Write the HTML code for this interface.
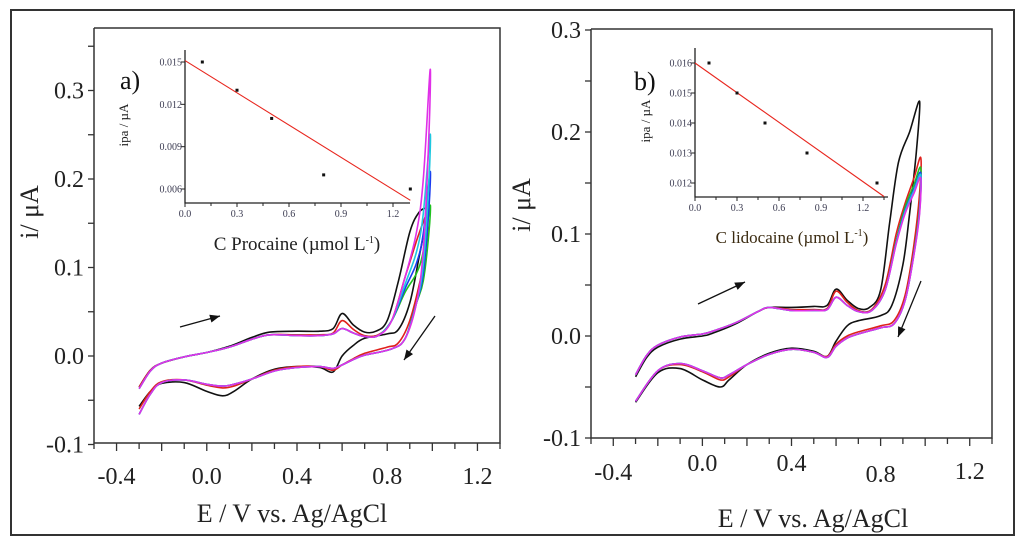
<!DOCTYPE html>
<html><head><meta charset="utf-8"><style>
body{margin:0;background:#fff}
svg{display:block;font-family:"Liberation Serif",serif}
</style></head><body>
<svg id="fig" width="1024" height="546" viewBox="0 0 1024 546">
<rect x="11" y="10" width="1003" height="525" fill="none" stroke="#333" stroke-width="2"/>
<g id="L"></g>
<g id="R"></g>
</svg>
<script>
// ---- Panel a CV data (E in V, i in µA) ----
const aBlack = [[-0.3,-0.035],[-0.25,-0.016],[-0.2,-0.008],[-0.1,-0.001],[0,0.004],[0.1,0.011],[0.2,0.021],[0.28,0.027],[0.4,0.028],[0.5,0.028],[0.56,0.031],[0.6,0.048],[0.65,0.035],[0.7,0.027],[0.75,0.028],[0.8,0.04],[0.85,0.085],[0.9,0.14],[0.94,0.162],[0.975,0.166],[0.97,0.15],[0.94,0.11],[0.9,0.06],[0.85,0.03],[0.8,0.025],[0.7,0.02],[0.65,0.012],[0.6,0.0],[0.56,-0.018],[0.5,-0.013],[0.4,-0.012],[0.3,-0.015],[0.2,-0.026],[0.12,-0.04],[0.07,-0.045],[0,-0.04],[-0.1,-0.03],[-0.2,-0.031],[-0.25,-0.04],[-0.3,-0.057]];
const aRed = [[-0.3,-0.035],[-0.25,-0.016],[-0.2,-0.008],[-0.1,-0.001],[0,0.004],[0.1,0.01],[0.2,0.019],[0.28,0.024],[0.4,0.024],[0.5,0.024],[0.56,0.026],[0.6,0.04],[0.65,0.03],[0.7,0.023],[0.76,0.024],[0.82,0.04],[0.88,0.09],[0.93,0.13],[0.97,0.158],[0.98,0.16],[0.975,0.13],[0.95,0.09],[0.9,0.04],[0.85,0.015],[0.8,0.01],[0.7,0.003],[0.65,-0.003],[0.6,-0.01],[0.56,-0.016],[0.5,-0.012],[0.4,-0.012],[0.3,-0.016],[0.2,-0.026],[0.12,-0.034],[0.07,-0.036],[0,-0.033],[-0.1,-0.027],[-0.2,-0.029],[-0.25,-0.04],[-0.3,-0.06]];
const aMagenta = [[-0.3,-0.037],[-0.25,-0.017],[-0.2,-0.008],[-0.1,-0.001],[0,0.004],[0.1,0.01],[0.2,0.019],[0.28,0.024],[0.4,0.023],[0.5,0.023],[0.56,0.025],[0.6,0.031],[0.65,0.026],[0.7,0.022],[0.76,0.023],[0.82,0.04],[0.88,0.09],[0.93,0.14],[0.96,0.2],[0.99,0.323],[0.985,0.25],[0.96,0.12],[0.93,0.06],[0.88,0.02],[0.82,0.008],[0.7,0.001],[0.65,-0.004],[0.6,-0.01],[0.56,-0.014],[0.5,-0.012],[0.4,-0.013],[0.3,-0.017],[0.2,-0.026],[0.12,-0.032],[0.07,-0.034],[0,-0.032],[-0.1,-0.027],[-0.2,-0.03],[-0.25,-0.043],[-0.3,-0.066]];
const aTops = [0.17,0.208,0.25]; // green, blue, cyan peak currents
// ---- Panel b CV data ----
const bBlack = [[-0.3,-0.04],[-0.25,-0.021],[-0.2,-0.011],[-0.1,-0.003],[0,0.0],[0.05,0.003],[0.15,0.012],[0.25,0.024],[0.3,0.028],[0.4,0.028],[0.5,0.029],[0.56,0.03],[0.6,0.046],[0.65,0.035],[0.7,0.027],[0.75,0.028],[0.8,0.045],[0.84,0.11],[0.88,0.17],[0.93,0.2],[0.975,0.23],[0.96,0.18],[0.93,0.12],[0.9,0.07],[0.85,0.03],[0.8,0.02],[0.7,0.015],[0.65,0.01],[0.6,-0.005],[0.56,-0.02],[0.5,-0.015],[0.4,-0.012],[0.3,-0.017],[0.2,-0.028],[0.12,-0.043],[0.08,-0.05],[0,-0.043],[-0.1,-0.032],[-0.2,-0.036],[-0.3,-0.065]];
const bRed = [[-0.3,-0.038],[-0.25,-0.019],[-0.2,-0.009],[-0.1,-0.001],[0,0.002],[0.05,0.005],[0.15,0.013],[0.25,0.024],[0.3,0.028],[0.4,0.026],[0.5,0.026],[0.56,0.027],[0.6,0.044],[0.65,0.033],[0.7,0.025],[0.76,0.026],[0.82,0.05],[0.87,0.1],[0.91,0.13],[0.95,0.155],[0.98,0.175],[0.975,0.14],[0.95,0.09],[0.91,0.04],[0.86,0.015],[0.8,0.01],[0.7,0.004],[0.65,0.0],[0.6,-0.008],[0.56,-0.02],[0.5,-0.016],[0.4,-0.013],[0.3,-0.018],[0.2,-0.028],[0.12,-0.04],[0.08,-0.043],[0,-0.035],[-0.1,-0.028],[-0.2,-0.034],[-0.3,-0.064]];
const bMagenta = [[-0.3,-0.038],[-0.25,-0.019],[-0.2,-0.009],[-0.1,-0.001],[0,0.002],[0.05,0.005],[0.15,0.013],[0.25,0.024],[0.3,0.028],[0.4,0.025],[0.5,0.025],[0.56,0.026],[0.6,0.038],[0.65,0.03],[0.7,0.024],[0.76,0.025],[0.82,0.045],[0.87,0.09],[0.91,0.12],[0.95,0.14],[0.98,0.155],[0.975,0.12],[0.95,0.08],[0.91,0.035],[0.86,0.012],[0.8,0.008],[0.7,0.002],[0.65,-0.002],[0.6,-0.01],[0.56,-0.021],[0.5,-0.016],[0.4,-0.013],[0.3,-0.018],[0.2,-0.028],[0.12,-0.038],[0.08,-0.041],[0,-0.034],[-0.1,-0.027],[-0.2,-0.034],[-0.3,-0.064]];
const bTops = [0.165,0.16,0.158];
// ---- Inset data ----
const aConc = [0.1,0.3,0.5,0.8,1.3];
const aIpa = [0.015,0.013,0.011,0.007,0.006];
const aFit = [[0,0.0151],[1.3,0.0052]];
const bConc = [0.1,0.3,0.5,0.8,1.3];
const bIpa = [0.016,0.015,0.014,0.013,0.012];
const bFit = [[0,0.016],[1.35,0.01155]];
const xTicks = [-0.4,0.0,0.4,0.8,1.2];
const aYTicks = [-0.1,0.0,0.1,0.2,0.3];
const bYTicks = [-0.1,0.0,0.1,0.2,0.3];
const aInsetX = [0.0,0.3,0.6,0.9,1.2];
const aInsetY = [0.006,0.009,0.012,0.015];
const bInsetY = [0.012,0.013,0.014,0.015,0.016];

const NS='http://www.w3.org/2000/svg';
function mk(p,t,a){const e=document.createElementNS(NS,t);for(const k in a)e.setAttribute(k,a[k]);p.appendChild(e);return e;}
function scale(d0,d1,r0,r1){return v=>r0+(v-d0)*(r1-r0)/(d1-d0);}
function withTop(base,top){const mx=Math.max(...base.map(p=>p[1]));return base.map(p=>[p[0],p[1]>0.06?0.06+(p[1]-0.06)*(top-0.06)/(mx-0.06):p[1]]);}
function smooth(pts){let d='M'+pts[0][0].toFixed(1)+','+pts[0][1].toFixed(1);
  for(let i=0;i<pts.length-1;i++){const p0=pts[Math.max(0,i-1)],p1=pts[i],p2=pts[i+1],p3=pts[Math.min(pts.length-1,i+2)];
    const c1=[p1[0]+(p2[0]-p0[0])/6,p1[1]+(p2[1]-p0[1])/6],c2=[p2[0]-(p3[0]-p1[0])/6,p2[1]-(p3[1]-p1[1])/6];
    d+=`C${c1[0].toFixed(1)},${c1[1].toFixed(1)} ${c2[0].toFixed(1)},${c2[1].toFixed(1)} ${p2[0].toFixed(1)},${p2[1].toFixed(1)}`;}
  return d;}

function panel(g,cfg){
  const sx=scale(-0.5,1.3,cfg.x0,cfg.x1), sy=scale(0,0.1,cfg.y0v,cfg.y0v-cfg.ppt);
  const box=mk(g,'path',{d:`M${cfg.x0},${cfg.yt}V${cfg.yb}H${cfg.x1}V${cfg.yt}H${cfg.x0}`,fill:'none',stroke:'#333','stroke-width':1.5});
  
  for(let v=-0.5;v<=1.301;v+=0.1){const x=sx(v);const t=mk(g,'line',{x1:x,x2:x,y1:cfg.yb,y2:cfg.yb+(Math.round(v*10)%2===0?8:6),stroke:'#333','stroke-width':1.3});}
  xTicks.forEach((v,i)=>{const t=mk(g,'text',{x:sx(v),y:cfg.xly[i],'font-size':24,'text-anchor':'middle',fill:'#222'});t.textContent=v.toFixed(1);});
  for(let v=-0.1;v<=cfg.ymax;v+=0.05){const y=sy(v);const t=mk(g,'line',{x1:cfg.x0-6,x2:cfg.x0,y1:y,y2:y,stroke:'#333','stroke-width':1.3});}
  cfg.yticks.forEach(v=>{const t=mk(g,'text',{x:cfg.x0-10,y:sy(v)+8,'font-size':24,'text-anchor':'end',fill:'#222'});t.textContent=v.toFixed(1);});
  const xt=mk(g,'text',{x:cfg.xtx,y:cfg.xty,'font-size':26,'text-anchor':'middle',fill:'#222'});xt.textContent='E / V vs. Ag/AgCl';
  const yt=mk(g,'text',{x:0,y:0,'font-size':26,'text-anchor':'middle',fill:'#222',transform:`translate(${cfg.ytx},${cfg.yty}) rotate(-90)`,'xml:space':'preserve'});yt.textContent=cfg.ylab;
  const series=[['#111',cfg.black],['#e0201c',cfg.red],['#1fc21f',withTop(cfg.magenta,cfg.tops[0])],['#1a3cf0',withTop(cfg.magenta,cfg.tops[1])],['#1ec8e0',withTop(cfg.magenta,cfg.tops[2])],['#e030e8',cfg.magenta]];
  series.forEach(([c,d],i)=>{const p=mk(g,'path',{d:smooth(d.map(q=>[sx(q[0]),sy(q[1])])),fill:'none',stroke:c,'stroke-width':1.6,'stroke-linejoin':'round'});});
  cfg.arrows.forEach(a=>{const ar=mk(g,'g',{});
    mk(ar,'line',{x1:a[0],y1:a[1],x2:a[2],y2:a[3],stroke:'#111','stroke-width':1.3});
    const ang=Math.atan2(a[3]-a[1],a[2]-a[0]);const L=10,W=4;
    const bx=a[2]-L*Math.cos(ang),by=a[3]-L*Math.sin(ang);
    mk(ar,'polygon',{points:`${a[2]},${a[3]} ${bx+W*Math.sin(ang)},${by-W*Math.cos(ang)} ${bx-W*Math.sin(ang)},${by+W*Math.cos(ang)}`,fill:'#111'});});
}
function inset(g,c){
  const sx=scale(0,1.2,c.x0,c.x12), sy=scale(c.ya,c.yb,c.pya,c.pyb);
  const ax=mk(g,'path',{d:`M${c.x0},${c.top}V${c.base}H${c.xr}`,fill:'none',stroke:'#222','stroke-width':1.3});
  for(let v=0;v<=c.xmax+1e-6;v+=0.15){const x=sx(v);mk(g,'line',{x1:x,x2:x,y1:c.base,y2:c.base+(Math.round(v/0.15)%2===0?4:3),stroke:'#222'});}
  aInsetX.forEach(v=>{const t=mk(g,'text',{x:sx(v),y:c.base+14,'font-size':10,'text-anchor':'middle',fill:'#3a3a50'});t.textContent=v.toFixed(1);});
  c.yt.forEach(v=>{const y=sy(v);mk(g,'line',{x1:c.x0-4,x2:c.x0,y1:y,y2:y,stroke:'#222'});const t=mk(g,'text',{x:c.x0-3,y:y+3.5,'font-size':10,'text-anchor':'end',fill:'#3a3a50'});t.textContent=v.toFixed(3);});
  const f=mk(g,'line',{x1:sx(c.fit[0][0]),y1:sy(c.fit[0][1]),x2:sx(c.fit[1][0]),y2:sy(c.fit[1][1]),stroke:'#e8261e','stroke-width':1.1});
  c.cx.forEach((v,i)=>{const r=mk(g,'rect',{x:sx(v)-1.5,y:sy(c.cy[i])-1.5,width:3,height:3,fill:'#111'});});
  const xl=mk(g,'text',{x:c.xlx,y:c.xly,'font-size':c.xlfs,'text-anchor':'middle',fill:c.xlc});xl.innerHTML=c.xlab+' (µmol L<tspan dy="-7" font-size="10">-1</tspan><tspan dy="7">)</tspan>';
  const yl=mk(g,'text',{x:0,y:0,'font-size':13,'text-anchor':'middle',fill:'#222',transform:`translate(${c.ylx},${c.yly}) rotate(-90)`});yl.textContent='ipa / µA';
  const lb=mk(g,'text',{x:c.lbx,y:c.lby,'font-size':26,fill:'#111'});lb.textContent=c.lab;
}
const L=document.getElementById('L'),R=document.getElementById('R');
panel(L,{x0:94,x1:500,yt:28,yb:443,y0v:356,ppt:88.5,ymax:0.37,yticks:aYTicks,xly:[484,484,484,484,484],xtx:292,xty:522,ytx:38,yty:212,ylab:'i/ μA',black:aBlack,red:aRed,magenta:aMagenta,tops:aTops,arrows:[[180,327,220,316],[435,316,404,360]]});
panel(R,{x0:591,x1:992,yt:29,yb:438,y0v:336,ppt:102,ymax:0.301,yticks:bYTicks,xly:[480,471,471,482,479],xtx:813,xty:527,ytx:530,yty:205,ylab:'i/  μA',black:bBlack,red:bRed,magenta:bMagenta,tops:bTops,arrows:[[698,304,745,282],[921,281,898,337]]});
inset(L,{x0:185,x12:393,xr:410,xmax:1.3,top:50,base:203,ya:0.006,yb:0.015,pya:189,pyb:62,yt:aInsetY,fit:aFit,cx:aConc,cy:aIpa,xlab:'C  Procaine',xlx:297,xly:250,xlfs:19,xlc:'#222',ylx:128,yly:125,lab:'a)',lbx:120,lby:89});
inset(R,{x0:695,x12:863,xr:888,xmax:1.35,top:48,base:197,ya:0.012,yb:0.016,pya:183,pyb:63,yt:bInsetY,fit:bFit,cx:bConc,cy:bIpa,xlab:'C lidocaine',xlx:792,xly:243,xlfs:17,xlc:'#3a2a10',ylx:650,yly:121,lab:'b)',lbx:634,lby:90});
</script>
</body></html>
